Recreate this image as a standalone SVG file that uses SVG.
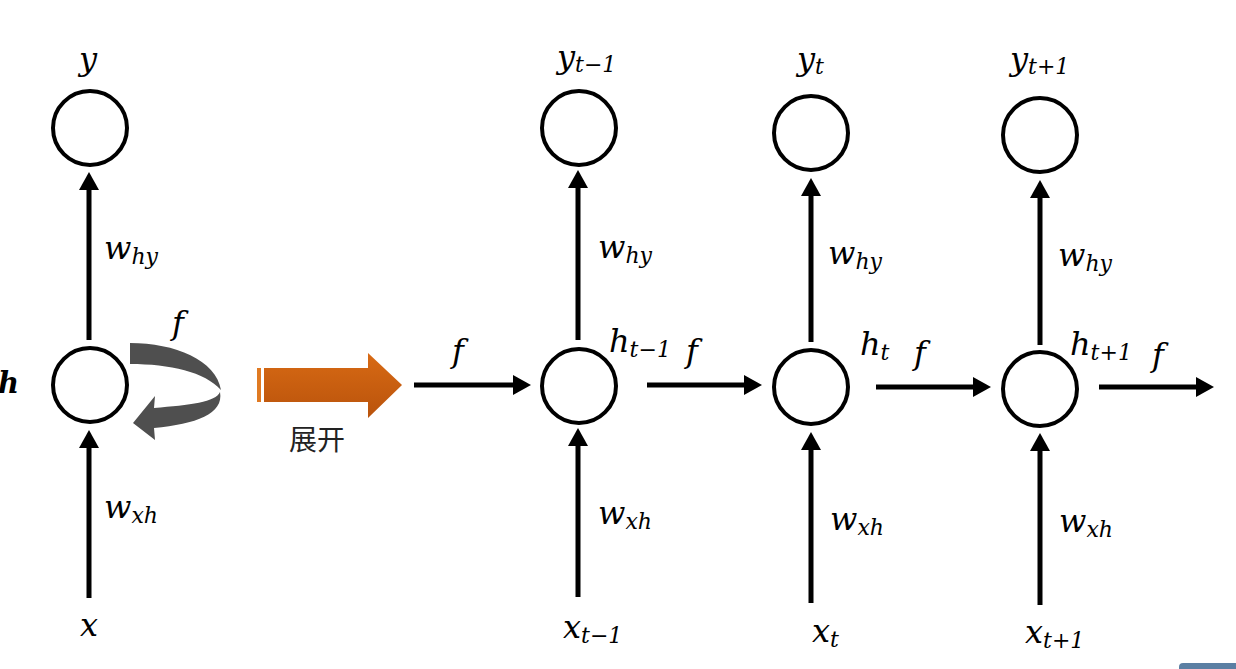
<svg xmlns="http://www.w3.org/2000/svg" width="1236" height="669" viewBox="0 0 1236 669">
<style>
.n{fill:#fff;stroke:#000;stroke-width:4}
.c{stroke:#000;stroke-width:5;fill:none;marker-end:url(#ah)}
.t{font-family:"DejaVu Serif","Liberation Serif",serif;font-style:italic;font-size:32px;fill:#000}
.s{font-size:22px}
.cn{font-family:"Noto Sans CJK SC","Noto Sans CJK JP",sans-serif;font-size:28px;fill:#222}
</style>
<defs>
<marker id="ah" viewBox="0 0 18 20" refX="8" refY="10" markerWidth="18" markerHeight="20" markerUnits="userSpaceOnUse" orient="auto">
<path d="M0,0 L18,10 L0,20 Z" fill="#000"/>
</marker>
<linearGradient id="og" x1="0" y1="0" x2="0" y2="1">
<stop offset="0" stop-color="#d86a14"/>
<stop offset="1" stop-color="#b9530c"/>
</linearGradient>
</defs>
<rect width="1236" height="669" fill="#fff"/>

<g id="connectors">
<line class="c" x1="89" y1="340" x2="89" y2="182"/>
<line class="c" x1="89" y1="598" x2="89" y2="440"/>
<line class="c" x1="578" y1="340" x2="578" y2="180"/>
<line class="c" x1="578" y1="597" x2="578" y2="438"/>
<line class="c" x1="811" y1="342" x2="811" y2="188"/>
<line class="c" x1="811" y1="603" x2="811" y2="442"/>
<line class="c" x1="1040" y1="345" x2="1040" y2="190"/>
<line class="c" x1="1040" y1="605" x2="1040" y2="443"/>
<line class="c" x1="414" y1="385" x2="521" y2="385"/>
<line class="c" x1="647" y1="385" x2="752" y2="385"/>
<line class="c" x1="876" y1="387" x2="981" y2="387"/>
<line class="c" x1="1099" y1="387" x2="1204" y2="387"/>
<g id="loop" fill="#4f4f4f">
<path d="M130,343 C175,343 216,360 221,390 C205,372 170,364 130,364 Z"/>
<path d="M220,392 C216,402 190,405 154,408 L155,396 L133,423 L155,440 L154,428 C196,424 224,414 220,392 Z"/>
</g>
<g id="unfold">
<rect x="257" y="368" width="4" height="34" fill="#e07a22"/>
<path d="M264,368 L368,368 L368,353 L402,385 L368,418 L368,402 L264,402 Z" fill="url(#og)"/>
</g>
</g>

<g id="node-y"><circle class="n" cx="90" cy="128" r="37"/></g>
<g id="node-h"><circle class="n" cx="90" cy="385" r="37"/></g>
<g id="node-y-t-1"><circle class="n" cx="579" cy="128" r="37"/></g>
<g id="node-h-t-1"><circle class="n" cx="579" cy="386" r="37"/></g>
<g id="node-y-t"><circle class="n" cx="811" cy="133" r="37"/></g>
<g id="node-h-t"><circle class="n" cx="811" cy="387" r="37"/></g>
<g id="node-y-t+1"><circle class="n" cx="1040" cy="135" r="37"/></g>
<g id="node-h-t+1"><circle class="n" cx="1040" cy="389" r="37"/></g>

<g id="labels">
<text class="t" x="79" y="70">y</text>
<text class="t" x="104" y="259">w<tspan class="s" dy="5">hy</tspan></text>
<text class="t" x="-2" y="393" style="font-size:29px;font-weight:bold">h</text>
<text class="t" x="172" y="334">f</text>
<text class="t" x="104" y="518">w<tspan class="s" dy="5">xh</tspan></text>
<text class="t" x="80" y="636">x</text>
<text class="cn" x="289" y="450">展开</text>
<text class="t" x="452" y="362">f</text>

<text class="t" x="557" y="68">y<tspan class="s" dy="4">t−1</tspan></text>
<text class="t" x="598" y="258">w<tspan class="s" dy="5">hy</tspan></text>
<text class="t" x="609" y="352">h<tspan class="s" dy="5">t−1</tspan></text>
<text class="t" x="686" y="362">f</text>
<text class="t" x="598" y="524">w<tspan class="s" dy="5">xh</tspan></text>
<text class="t" x="563" y="638">x<tspan class="s" dy="5">t−1</tspan></text>

<text class="t" x="797" y="70">y<tspan class="s" dy="4">t</tspan></text>
<text class="t" x="828" y="264">w<tspan class="s" dy="5">hy</tspan></text>
<text class="t" x="860" y="355">h<tspan class="s" dy="5">t</tspan></text>
<text class="t" x="914" y="364">f</text>
<text class="t" x="830" y="530">w<tspan class="s" dy="5">xh</tspan></text>
<text class="t" x="812" y="642">x<tspan class="s" dy="5">t</tspan></text>

<text class="t" x="1010" y="70">y<tspan class="s" dy="4">t+1</tspan></text>
<text class="t" x="1058" y="266">w<tspan class="s" dy="5">hy</tspan></text>
<text class="t" x="1070" y="355">h<tspan class="s" dy="5">t+1</tspan></text>
<text class="t" x="1152" y="366">f</text>
<text class="t" x="1059" y="532">w<tspan class="s" dy="5">xh</tspan></text>
<text class="t" x="1025" y="643">x<tspan class="s" dy="5">t+1</tspan></text>
</g>

<rect x="1179" y="663" width="62" height="10" rx="4" fill="#5b7fa3"/>
</svg>
